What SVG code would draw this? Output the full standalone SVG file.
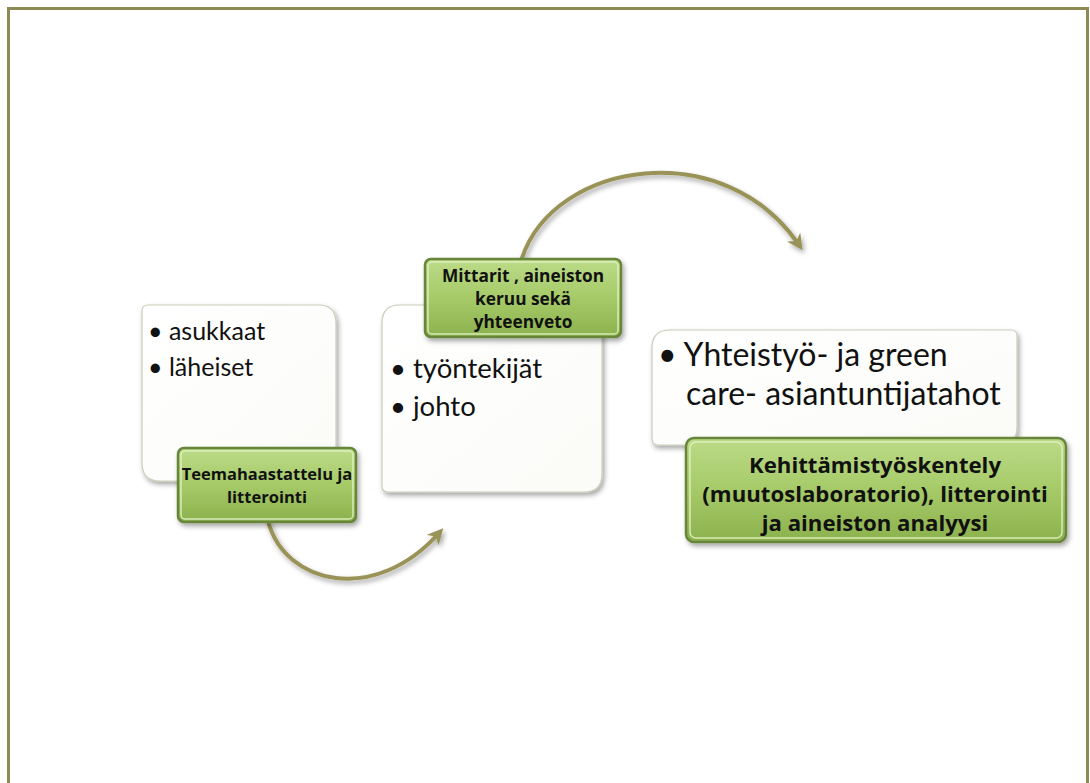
<svg xmlns="http://www.w3.org/2000/svg" width="1090" height="783" viewBox="0 0 1090 783">
<style>
.frame{fill:#fff;stroke:#8f8a55;stroke-width:3}
.card{fill:url(#cardg);stroke:#c9cdb8;stroke-width:1.2}
.lbl{fill:url(#greeng);stroke:#67863a;stroke-width:2.5}
.bev{fill:none;stroke:#e3f2c8;stroke-width:1.5;opacity:0.85}
.t{font-family:Lato,"Open Sans","Liberation Sans",sans-serif;fill:#111}
.b{font-family:"Open Sans",Lato,"Liberation Sans",sans-serif;font-weight:bold;fill:#111;text-anchor:middle}
.arr{fill:none;stroke:#9a9358;stroke-width:4;stroke-linecap:round}
</style>
<defs>
<linearGradient id="greeng" x1="0" y1="0" x2="0" y2="1">
<stop offset="0" stop-color="#bcdb88"/>
<stop offset="0.5" stop-color="#a6ca68"/>
<stop offset="1" stop-color="#8bb14d"/>
</linearGradient>
<linearGradient id="cardg" x1="0" y1="0" x2="1" y2="1">
<stop offset="0" stop-color="#ffffff"/>
<stop offset="1" stop-color="#fbfcf8"/>
</linearGradient>
<filter id="sh" x="-10%" y="-10%" width="125%" height="130%">
<feDropShadow dx="2" dy="3" stdDeviation="2.5" flood-color="#000" flood-opacity="0.35"/>
</filter>
<marker id="ah" viewBox="0 0 10 10" refX="6" refY="5" markerWidth="4" markerHeight="4" orient="auto" markerUnits="strokeWidth">
<path d="M0,0 L10,5 L0,10 L3,5 Z" fill="#9a9358"/>
</marker>
</defs>
<rect class="frame" x="8.5" y="8.5" width="1079" height="790"/>

<g id="connectors" filter="url(#sh)">
<path class="arr" d="M268,521 C285,585 375,605 439,533" marker-end="url(#ah)"/>
<path class="arr" d="M522,258 C555,160 725,135 799,245" marker-end="url(#ah)"/>
</g>

<g id="card1">
<path class="card" filter="url(#sh)" d="M142,311 Q142,305 148,305 H318 Q336,305 336,323 V481 H160 Q142,481 142,463 Z"/>
<text class="t" x="148" y="340" font-size="25">• asukkaat</text>
<text class="t" x="148" y="376" font-size="25">• läheiset</text>
</g>

<g id="label1">
<rect class="lbl" filter="url(#sh)" x="178" y="448" width="178" height="74" rx="6"/>
<rect class="bev" x="181" y="451" width="172" height="68" rx="4"/>
<text class="b" x="267" y="480" font-size="16.5">Teemahaastattelu ja</text>
<text class="b" x="267" y="503" font-size="16.5">litterointi</text>
</g>

<g id="card2">
<path class="card" filter="url(#sh)" d="M382,323 Q382,305 400,305 H596 Q602,305 602,311 V474 Q602,492 584,492 H388 Q382,492 382,486 Z"/>
<text class="t" x="390" y="378" font-size="27.5">• työntekijät</text>
<text class="t" x="390" y="416" font-size="27.5">• johto</text>
</g>

<g id="label2">
<rect class="lbl" filter="url(#sh)" x="425" y="259" width="196" height="78" rx="6"/>
<rect class="bev" x="428" y="262" width="190" height="72" rx="4"/>
<text class="b" x="523" y="282" font-size="17.3">Mittarit , aineiston</text>
<text class="b" x="523" y="305" font-size="17.3">keruu sekä</text>
<text class="b" x="523" y="328" font-size="17.3">yhteenveto</text>
</g>

<g id="card3">
<path class="card" filter="url(#sh)" d="M652,348 Q652,330 670,330 H1011 Q1017,330 1017,336 V427 Q1017,445 999,445 H658 Q652,445 652,439 Z"/>
<text class="t" x="658" y="366" font-size="32">• Yhteistyö- ja green</text>
<text class="t" x="686" y="405" font-size="32">care- asiantuntijatahot</text>
</g>

<g id="label3">
<rect class="lbl" filter="url(#sh)" x="686" y="438" width="380" height="104" rx="8"/>
<rect class="bev" x="690" y="442" width="372" height="96" rx="6"/>
<text class="b" x="875" y="473" font-size="22.2">Kehittämistyöskentely</text>
<text class="b" x="875" y="502" font-size="22.2">(muutoslaboratorio), litterointi</text>
<text class="b" x="875" y="531" font-size="22.2">ja aineiston analyysi</text>
</g>
</svg>
